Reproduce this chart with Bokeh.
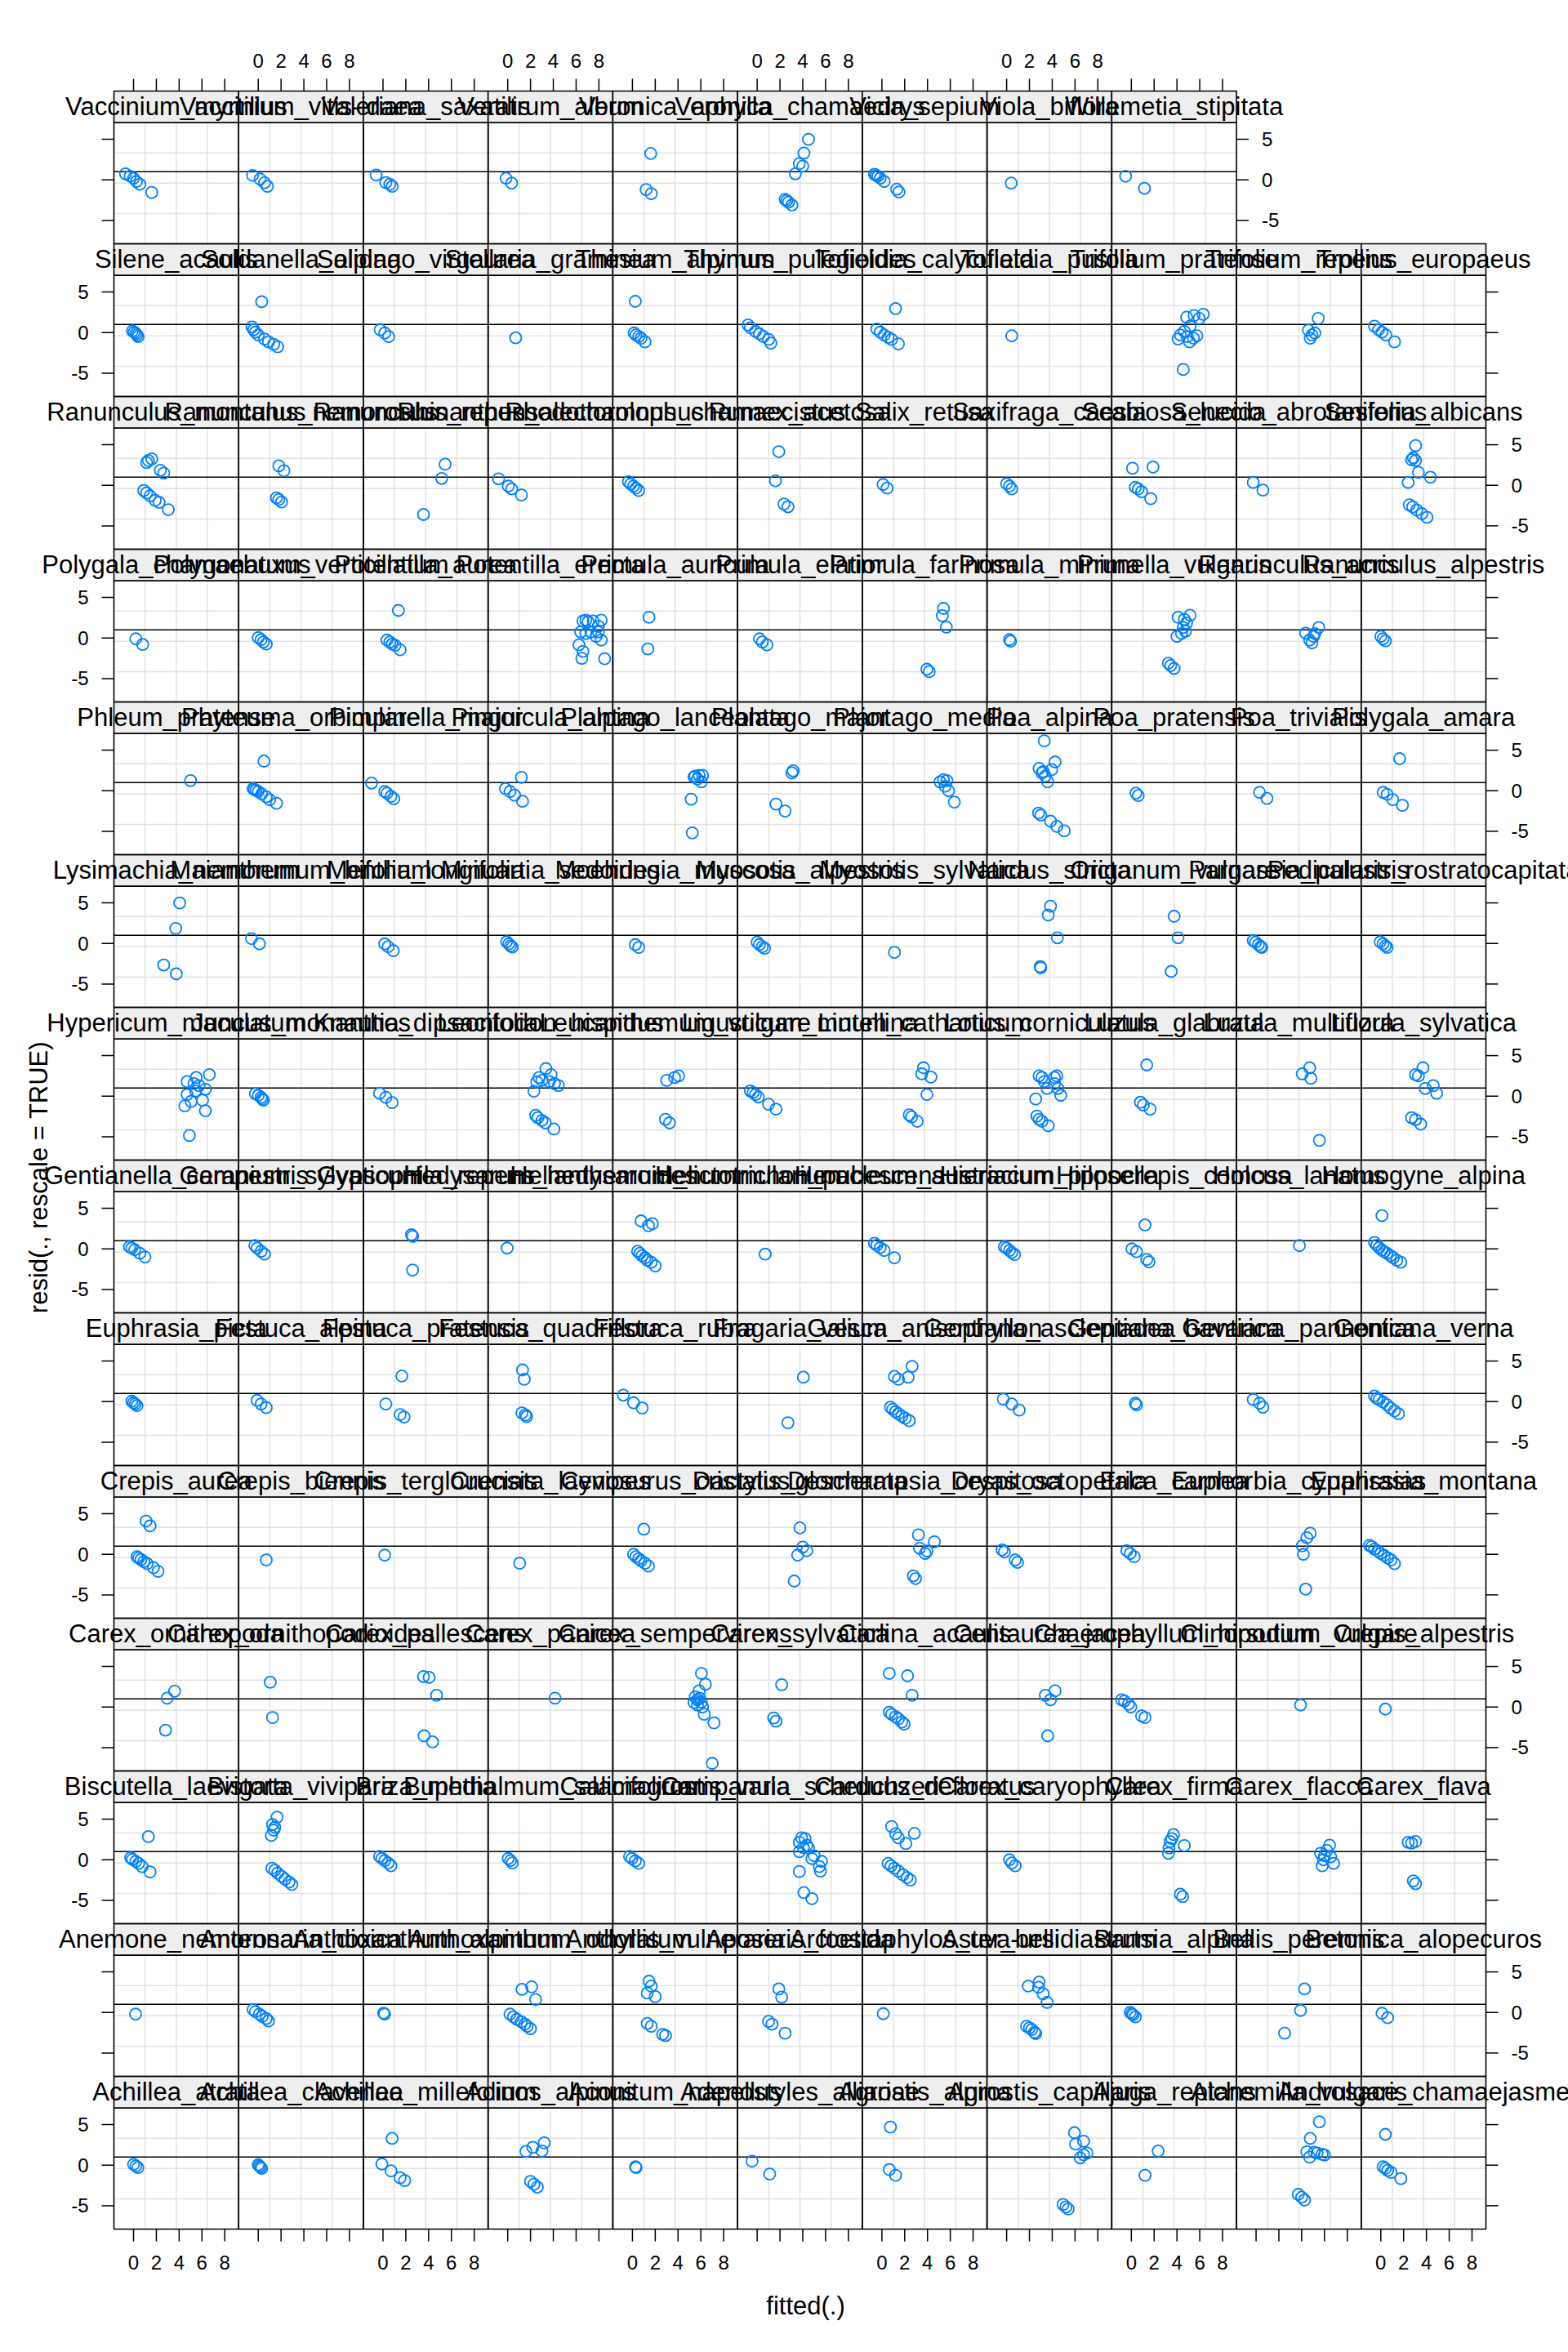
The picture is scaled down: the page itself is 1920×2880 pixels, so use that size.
import math
from bokeh.plotting import figure
from bokeh.models import Range1d
from bokeh.core.properties import value
from bokeh.embed import file_html
from bokeh.resources import INLINE

# ---------------- data (panels in lattice order: bottom-left first) ----------------
species = [
    "Achillea_atrata", "Achillea_clavenae", "Achillea_millefolium", "Acinos_alpinus", "Aconitum_napellus",
    "Adenostyles_alliariae", "Agrostis_alpina", "Agrostis_capillaris", "Ajuga_reptans", "Alchemilla_vulgaris",
    "Androsace_chamaejasme",
    "Anemone_nemorosa", "Antennaria_dioica", "Anthoxanthum_alpinum", "Anthoxanthum_odoratum", "Anthyllis_vulneraria",
    "Aposeris_foetida", "Arctostaphylos_uva-ursi", "Aster_bellidiastrum", "Bartsia_alpina", "Bellis_perennis",
    "Betonica_alopecuros",
    "Biscutella_laevigata", "Bistorta_vivipara", "Briza_media", "Buphthalmum_salicifolium", "Calamagrostis_varia",
    "Campanula_scheuchzeri", "Carduus_defloratus", "Carex_caryophyllea", "Carex_firma", "Carex_flacca", "Carex_flava",
    "Carex_ornithopoda", "Carex_ornithopodioides", "Carex_pallescens", "Carex_panicea", "Carex_sempervirens",
    "Carex_sylvatica", "Carlina_acaulis", "Centaurea_jacea", "Chaerophyllum_hirsutum", "Clinopodium_vulgare",
    "Crepis_alpestris",
    "Crepis_aurea", "Crepis_biennis", "Crepis_terglouensis", "Cruciata_laevipes", "Cynosurus_cristatus",
    "Dactylis_glomerata", "Deschampsia_cespitosa", "Dryas_octopetala", "Erica_carnea", "Euphorbia_cyparissias",
    "Euphrasia_montana",
    "Euphrasia_picta", "Festuca_alpina", "Festuca_pratensis", "Festuca_quadriflora", "Festuca_rubra",
    "Fragaria_vesca", "Galium_anisophyllon", "Gentiana_asclepiadea", "Gentiana_bavarica", "Gentiana_pannonica",
    "Gentiana_verna",
    "Gentianella_campestris", "Geranium_sylvaticum", "Gypsophila_repens", "Hedysarum_hedysaroides",
    "Helianthemum_nummularium", "Helictotrichon_pubescens", "Heracleum_austriacum", "Hieracium_pilosella",
    "Hippocrepis_comosa", "Holcus_lanatus", "Homogyne_alpina",
    "Hypericum_maculatum", "Juncus_monanthos", "Knautia_dipsacifolia", "Leontodon_hispidus", "Leucanthemum_vulgare",
    "Ligusticum_mutellina", "Linum_catharticum", "Lotus_corniculatus", "Luzula_glabrata", "Luzula_multiflora",
    "Luzula_sylvatica",
    "Lysimachia_nemorum", "Maianthemum_bifolium", "Mentha_longifolia", "Minuartia_sedoides", "Moehringia_muscosa",
    "Myosotis_alpestris", "Myosotis_sylvatica", "Nardus_stricta", "Origanum_vulgare", "Parnassia_palustris",
    "Pedicularis_rostratocapitata",
    "Phleum_pratense", "Phyteuma_orbiculare", "Pimpinella_major", "Pinguicula_alpina", "Plantago_lanceolata",
    "Plantago_major", "Plantago_media", "Poa_alpina", "Poa_pratensis", "Poa_trivialis", "Polygala_amara",
    "Polygala_chamaebuxus", "Polygonatum_verticillatum", "Potentilla_aurea", "Potentilla_erecta", "Primula_auricula",
    "Primula_elatior", "Primula_farinosa", "Primula_minima", "Prunella_vulgaris", "Ranunculus_acris",
    "Ranunculus_alpestris",
    "Ranunculus_montanus", "Ranunculus_nemorosus", "Ranunculus_repens", "Rhinanthus_alectorolophus",
    "Rhodothamnus_chamaecistus", "Rumex_acetosa", "Salix_retusa", "Saxifraga_caesia", "Scabiosa_lucida",
    "Senecio_abrotanifolius", "Sesleria_albicans",
    "Silene_acaulis", "Soldanella_alpina", "Solidago_virgaurea", "Stellaria_graminea", "Thesium_alpinum",
    "Thymus_pulegioides", "Tofieldia_calyculata", "Tofieldia_pusilla", "Trifolium_pratense", "Trifolium_repens",
    "Trollius_europaeus",
    "Vaccinium_myrtillus", "Vaccinium_vitis-idaea", "Valeriana_saxatilis", "Veratrum_album", "Veronica_aphylla",
    "Veronica_chamaedrys", "Vicia_sepium", "Viola_biflora", "Willemetia_stipitata",
]

fitted = [
    [0.0, 0.2, 0.38], [0.0, 0.1, 0.2, 0.3], [0.8, -0.1, 0.7, 1.5, 1.9], [1.6, 2.2, 3.2, 3.0, 2.0, 2.3, 2.6],
    [0.27, 0.32], [-0.45, 1.1], [0.75, 0.65, 1.2], [5.95, 6.75, 6.05, 7.05, 6.45, 6.75, 4.95, 5.2, 5.4],
    [2.35, 1.2], [5.55, 4.75, 4.45, 5.1, 5.8, 4.7, 5.35, 6.0, 3.7, 4.0, 4.25], [0.4, 0.2, 0.4, 0.6, 0.9, 1.75],
    [0.18], [-0.45, -0.25, 0.1, 0.35, 0.7, 0.9], [0.05, 0.14], [1.25, 2.1, 2.45, 0.2, 0.5, 0.8, 1.2, 1.5, 1.7, 2.0],
    [1.45, 1.65, 1.3, 2.0, 1.3, 1.65, 2.65, 2.9], [1.9, 2.15, 1.0, 1.3, 2.45], [0.12],
    [1.9, 2.85, 2.8, 3.2, 3.55, 1.75, 2.0, 2.2, 2.45, 2.55], [-0.1, 0.05, 0.15, 0.35], [4.25, 3.9, 2.5], [0.1, 0.6],
    [1.3, -0.25, -0.1, 0.2, 0.45, 0.75, 1.45], [1.65, 1.25, 1.45, 1.35, 1.15, 1.2, 1.45, 1.7, 2.05, 2.35, 2.7, 2.95],
    [-0.3, -0.1, 0.15, 0.45, 0.7], [0.05, 0.25, 0.4], [-0.25, -0.05, 0.25, 0.55],
    [3.9, 4.2, 3.7, 4.35, 4.05, 3.7, 4.5, 5.0, 4.8, 5.65, 5.45, 5.55, 3.7, 4.1, 4.8],
    [0.85, 1.2, 1.45, 2.85, 2.1, 0.55, 0.8, 1.1, 1.45, 1.85, 2.2, 2.5], [0.25, 0.45, 0.75],
    [3.7, 3.4, 3.25, 4.65, 3.55, 3.3, 4.3, 4.5], [6.45, 5.65, 6.2, 6.0, 5.9, 5.8, 6.8, 6.55], [2.4, 3.05, 2.7, 2.85, 3.05],
    [3.6, 2.95, 2.8], [1.05, 1.25], [3.55, 4.05, 4.7, 3.6, 4.35], [4.15],
    [6.05, 6.4, 5.85, 5.5, 5.9, 5.7, 5.4, 6.05, 6.15, 5.7, 6.3, 7.15, 7.0], [2.15, 1.45, 1.65],
    [0.65, 2.25, 2.65, 0.65, 0.85, 1.2, 1.45, 1.75, 1.95], [4.25, 3.4, 3.85, 3.6], [-0.85, -0.6, -0.25, -0.05, 0.9, 1.2],
    [3.9], [0.4],
    [1.1, 1.45, 0.3, 0.45, 0.65, 0.9, 1.2, 1.75, 2.15], [0.7], [0.15], [1.05], [1.0, 0.1, 0.3, 0.55, 0.75, 1.1, 1.4],
    [3.75, 4.0, 4.35, 3.55, 3.25], [3.2, 4.6, 3.3, 3.95, 3.8, 2.75, 2.95], [-0.4, -0.2, 0.75, 0.95], [-0.4, -0.1, 0.25],
    [4.75, 4.45, 4.05, 4.15, 4.35], [-1.0, -0.8, -0.55, -0.25, 0.0, 0.3, 0.6, 0.9, 1.2],
    [-0.15, 0.0, 0.15, 0.3], [-0.1, 0.25, 0.7], [1.65, 0.25, 1.5, 1.85], [1.3, 1.45, 1.25, 1.55, 1.65], [-0.8, 0.1, 0.85],
    [4.05, 2.7], [1.1, 1.45, 2.3, 2.65, 0.75, 0.95, 1.2, 1.45, 1.75, 2.05, 2.4], [-0.3, 0.45, 1.1], [0.35, 0.45],
    [-0.25, 0.3, 0.6], [-0.55, -0.35, -0.15, 0.2, 0.55, 0.85, 1.2, 1.55],
    [-0.35, -0.15, 0.1, 0.55, 1.0], [-0.3, -0.1, 0.25, 0.55], [2.5, 2.6, 2.6], [-0.05],
    [0.75, 1.4, 1.75, 0.45, 0.65, 0.85, 1.1, 1.3, 1.65, 2.0], [0.7], [-0.65, -0.45, -0.15, 0.2, 1.1],
    [-0.2, 0.0, 0.25, 0.45, 0.7], [1.2, 0.05, 0.45, 1.35, 1.55], [3.8],
    [0.1, -0.55, -0.35, -0.15, 0.1, 0.3, 0.55, 0.85, 1.1, 1.4, 1.75],
    [6.65, 5.5, 4.7, 5.3, 5.75, 6.3, 4.7, 5.45, 5.05, 4.5, 6.05, 6.3, 4.9], [-0.25, 0.0, 0.25, 0.35, 0.45],
    [-0.3, 0.25, 0.8], [3.35, 2.75, 3.8, 2.55, 3.0, 3.65, 4.1, 4.45, 2.3, 2.45, 2.65, 3.0, 3.3, 4.05],
    [3.0, 3.7, 4.05, 2.9, 3.25], [-0.6, -0.35, -0.15, 0.1, 1.0, 1.65], [3.65, 3.5, 4.3, 3.95, 2.4, 2.6, 3.1],
    [2.85, 3.1, 4.2, 4.4, 3.3, 3.55, 4.2, 4.5, 4.75, 2.55, 2.65, 2.85, 3.1, 3.65], [1.35, 0.8, 1.05, 1.65],
    [4.7, 4.05, 4.8, 5.55], [3.7, 3.05, 3.3, 4.6, 3.9, 4.9, 2.7, 3.05, 3.5],
    [4.05, 3.7, 2.65, 3.75], [-0.6, 0.1], [0.15, 0.45, 0.9], [-0.1, 0.1, 0.25, 0.4], [0.25, 0.55],
    [0.0, 0.2, 0.45, 0.65], [1.1], [3.85, 3.65, 4.45, 2.95, 3.0], [3.75, 4.1, 3.5], [-0.25, -0.05, 0.2, 0.4, 0.5],
    [-0.05, 0.2, 0.4, 0.55],
    [5.0], [0.5, -0.45, -0.35, -0.2, 0.0, 0.3, 0.7, 1.0, 1.6], [-1.0, 0.15, 0.35, 0.7, 0.95],
    [1.2, -0.2, 0.2, 0.6, 1.3], [5.5, 5.85, 6.15, 6.05, 5.7, 5.4, 5.15, 5.25], [3.15, 3.05, 1.65, 2.45],
    [5.1, 5.4, 5.7, 5.55, 5.85, 6.35], [3.3, 4.25, 2.85, 3.2, 3.6, 3.4, 3.95, 3.1, 2.8, 3.0, 3.85, 4.4, 5.05],
    [0.4, 0.6], [0.3, 0.95], [1.65, 0.2, 0.55, 1.05, 1.9],
    [0.2, 0.8], [0.0, 0.25, 0.45, 0.7], [1.35, 0.35, 0.6, 0.8, 1.05, 1.5],
    [6.4, 6.6, 6.85, 7.05, 7.5, 8.2, 7.95, 6.85, 7.3, 7.75, 8.2, 6.25, 6.6, 6.5, 8.5, 7.95], [1.45, 1.35],
    [0.2, 0.45, 0.85], [5.4, 5.3, 5.65, 3.95, 4.15], [0.25, 0.35],
    [4.1, 5.15, 4.65, 4.85, 4.55, 4.75, 4.4, 4.0, 3.25, 3.45, 3.75], [4.35, 5.5, 5.15, 4.7, 4.9, 5.05], [0.0, 0.2, 0.4],
    [1.6, 1.3, 1.15, 2.35, 2.65, 0.9, 1.15, 1.45, 1.9, 2.25, 3.05], [1.8, 2.25, 1.6, 1.8, 2.05], [5.45, 5.15, 3.55],
    [-0.8, 0.05, 0.35, 1.2], [-0.35, -0.15, 0.1, 0.3, 0.55], [1.9, 1.6, 2.35, 2.7], [0.1, 0.45], [0.0, 0.25, 0.45],
    [0.1, 1.9, 0.35, 0.6, 0.9, 1.7], [-0.25, 0.6], [3.05, 2.7, 3.05, 2.85, 3.3, 4.35, 2.4, 2.5, 2.8, 3.15, 3.6, 4.05],
    [-0.1, 0.05, 0.2, 0.3, 0.4], [0.3, -0.55, -0.4, -0.25, 0.0, 0.55, 0.9, 1.35, 1.7], [-0.25, 0.15, 0.5], [0.7],
    [0.25, 0.15, 0.3, 0.55, 0.75, 1.1], [-0.8, -0.6, -0.15, 0.2, 0.55, 1.0, 1.2], [1.2, -0.45, -0.15, 0.2, 0.55, 0.85, 1.45],
    [0.45], [4.55, 4.1, 4.3, 4.65, 4.85, 5.15, 5.5, 5.95, 6.3, 5.75, 5.1, 5.45, 4.9], [5.45, 4.6, 4.9, 5.15, 4.75],
    [-0.55, -0.2, 0.1, 0.45, 1.2],
    [-0.7, -0.3, 0.0, 0.25, 0.55, 1.6], [-0.5, 0.15, 0.55, 0.8], [-0.6, 0.25, 0.6, 0.8], [-0.15, 0.35], [1.6, 1.2, 1.65],
    [4.5, 4.1, 4.0, 3.7, 3.35, 2.45, 2.6, 2.75, 3.05], [-0.65, -0.5, -0.35, -0.15, 0.2, 1.3, 1.5], [0.4], [-0.5, 1.15],
]

resid = [
    [0.1, -0.1, -0.3], [0.05, -0.1, -0.25, -0.4], [3.3, 0.15, -0.7, -1.55, -1.9], [1.7, 2.2, 2.75, 1.75, -2.0, -2.35, -2.7],
    [-0.2, -0.3], [0.5, -1.1], [4.7, -0.55, -1.25], [4.0, 2.95, 2.6, 1.5, 0.9, 1.3, -4.85, -5.15, -5.4],
    [1.75, -1.25], [5.35, 3.3, 1.65, 1.6, 1.35, 1.0, 1.5, 1.25, -3.6, -3.95, -4.3], [3.8, -0.2, -0.4, -0.65, -0.9, -1.65],
    [-0.2], [0.35, 0.1, -0.2, -0.5, -0.75, -1.05], [-0.08, -0.2], [2.85, 3.15, 1.6, -0.2, -0.55, -0.85, -1.15, -1.45, -1.7, -2.0],
    [3.85, 3.25, 2.4, 1.95, -1.35, -1.7, -2.7, -2.85], [2.9, 1.9, -1.1, -1.45, -2.55], [-0.15],
    [3.25, 3.75, 3.1, 2.3, 1.25, -1.7, -1.9, -2.1, -2.45, -2.6], [0.0, -0.15, -0.3, -0.55], [2.9, 0.25, -2.55], [-0.1, -0.65],
    [2.85, 0.25, 0.05, -0.2, -0.45, -0.85, -1.5], [5.25, 4.35, 4.0, 3.65, 3.0, -1.05, -1.3, -1.65, -2.05, -2.4, -2.75, -3.05],
    [0.4, 0.15, -0.1, -0.4, -0.75], [0.15, -0.1, -0.4], [0.4, 0.15, -0.15, -0.45],
    [2.7, 2.6, 2.15, 1.8, 1.5, 1.0, 1.45, 0.5, 0.15, -0.2, -0.85, -1.4, -1.45, -4.05, -4.8],
    [4.1, 3.2, 2.7, 3.25, 2.0, -0.45, -0.75, -1.05, -1.4, -1.85, -2.2, -2.5], [0.0, -0.4, -0.75],
    [3.1, 2.25, 0.8, 1.75, 2.6, 1.45, -4.25, -4.55], [1.8, 0.8, 1.15, 0.5, 0.0, -0.75, -0.45, 0.35], [2.15, 2.25, 2.05, -2.6, -2.95],
    [1.95, 1.1, -2.85], [3.05, -1.3], [3.75, 3.65, 1.45, -3.55, -4.3], [1.1],
    [4.15, 2.8, 2.0, 1.25, 1.1, 0.9, 0.55, 0.6, 0.0, 0.25, -0.9, -1.95, -6.95], [2.75, -1.35, -1.75],
    [4.15, 3.85, 1.45, -0.65, -0.9, -1.2, -1.45, -1.85, -2.1], [2.0, 1.45, 0.9, -3.55], [0.9, 0.75, 0.35, 0.0, -1.1, -1.3],
    [0.25], [-0.25],
    [4.1, 3.5, -0.3, -0.45, -0.65, -0.9, -1.15, -1.65, -2.1], [-0.7], [-0.1], [-1.1], [3.1, 0.0, -0.3, -0.55, -0.8, -1.1, -1.45],
    [3.25, 0.9, 0.45, -0.1, -3.3], [2.4, 1.55, 0.75, 0.4, 0.1, -2.65, -3.0], [0.55, 0.3, -0.7, -1.0], [0.45, 0.1, -0.3],
    [2.6, 2.05, 1.05, 0.0, -4.3], [1.1, 0.95, 0.65, 0.4, 0.1, -0.15, -0.45, -0.7, -1.15],
    [0.05, -0.15, -0.3, -0.5], [0.15, -0.3, -0.75], [3.15, -0.3, -1.6, -1.9], [3.9, 2.75, -1.4, -1.65, -1.85], [0.8, -0.15, -0.8],
    [3.0, -2.6], [3.1, 2.75, 3.0, 4.35, -0.7, -0.95, -1.25, -1.5, -1.8, -2.05, -2.35], [0.3, -0.3, -1.05], [-0.2, -0.4],
    [0.25, -0.2, -0.7], [0.7, 0.4, 0.25, -0.05, -0.4, -0.8, -1.15, -1.5],
    [0.25, 0.1, -0.1, -0.55, -1.0], [0.4, 0.1, -0.3, -0.65], [1.75, 1.55, -2.6], [0.1],
    [3.45, 2.85, 3.1, -0.3, -0.55, -0.85, -1.1, -1.4, -1.65, -2.1], [-0.65], [0.7, 0.45, 0.15, -0.2, -1.1],
    [0.25, 0.1, -0.2, -0.45, -0.7], [2.95, 0.0, -0.35, -1.3, -1.6], [0.4],
    [4.1, 0.8, 0.45, 0.15, -0.15, -0.35, -0.55, -0.85, -1.1, -1.4, -1.65],
    [2.65, 2.3, 1.8, 1.55, 1.3, 0.85, 0.2, 0.65, -0.65, -1.2, -0.5, -1.8, -4.85], [0.3, 0.1, -0.15, -0.35, -0.5],
    [0.35, -0.15, -0.8], [3.4, 2.3, 2.65, 1.75, 1.95, 1.8, 1.55, 1.3, 0.6, -2.35, -2.65, -3.0, -3.3, -4.05],
    [1.95, 2.3, 2.5, -2.85, -3.3], [0.65, 0.45, 0.2, -0.1, -1.0, -1.6], [3.5, 2.75, 2.35, 0.2, -2.3, -2.55, -3.1],
    [2.5, 2.3, 2.3, 2.5, 1.8, 0.95, 1.55, 0.95, 0.1, -0.35, -2.45, -2.85, -3.1, -3.65], [3.85, -0.75, -1.1, -1.6],
    [3.5, 2.75, 2.2, -5.45], [3.5, 2.65, 2.5, 1.3, 0.95, 0.35, -2.65, -2.9, -3.45],
    [5.0, 1.85, -2.65, -3.75], [0.6, -0.05], [-0.05, -0.4, -0.9], [0.2, -0.05, -0.3, -0.45], [-0.15, -0.5],
    [0.15, -0.15, -0.4, -0.6], [-1.1], [4.6, 3.5, 0.7, -2.85, -3.0], [3.35, 0.7, -3.45], [0.35, 0.15, -0.15, -0.4, -0.5],
    [0.2, -0.05, -0.3, -0.5],
    [1.25], [3.65, 0.25, 0.15, 0.05, -0.1, -0.4, -0.75, -1.1, -1.55], [0.95, -0.1, -0.3, -0.7, -1.0],
    [1.65, 0.25, -0.1, -0.55, -1.3], [1.8, 1.9, 1.9, 1.1, 1.45, 1.7, -1.05, -5.2], [2.45, 2.2, -1.65, -2.5],
    [1.1, 1.35, 1.25, 0.55, 0.0, -1.4], [6.15, 3.55, 2.75, 2.35, 1.1, 1.8, 2.6, 2.2, -2.75, -3.0, -3.75, -4.4, -4.95],
    [-0.3, -0.6], [-0.2, -0.95], [3.95, -0.2, -0.45, -1.1, -1.8],
    [-0.1, -0.8], [0.05, -0.2, -0.5, -0.75], [3.4, -0.25, -0.5, -0.75, -0.9, -1.45],
    [0.75, 2.1, 2.2, 2.0, 2.1, 2.2, 0.75, 0.55, 0.75, 0.2, -0.25, -0.85, -1.65, -2.5, -2.55, 1.45], [2.55, -1.35],
    [-0.1, -0.5, -0.85], [3.65, 2.75, 1.35, -3.85, -4.15], [-0.2, -0.4],
    [2.55, 2.8, 2.3, 1.85, 1.3, 0.85, 0.55, 0.2, -3.1, -3.4, -3.75], [0.6, 1.3, 0.55, -0.25, -0.6, 0.2], [0.2, -0.1, -0.35],
    [3.25, 3.05, 2.8, 1.85, 1.5, -0.65, -0.95, -1.3, -1.85, -2.1, -3.0], [2.4, 1.8, -1.55, -1.75, -2.05], [2.6, 0.85, -3.6],
    [0.8, -0.1, -0.45, -1.2], [0.45, 0.15, -0.1, -0.35, -0.65], [4.15, 0.55, -2.3, -2.65], [0.1, -0.35], [0.2, -0.1, -0.45],
    [2.1, 2.25, -0.25, -0.45, -0.8, -1.65], [0.35, -0.6], [4.9, 3.15, 3.05, 3.4, 1.6, 1.0, 0.35, -2.4, -2.65, -3.05, -3.5, -3.95],
    [0.2, 0.05, -0.1, -0.3, -0.5], [3.8, 0.7, 0.35, 0.05, -0.3, -0.8, -1.15, -1.45, -1.75], [0.35, -0.05, -0.5], [-0.65],
    [3.85, -0.05, -0.3, -0.5, -0.7, -1.15], [0.95, 0.6, 0.15, -0.15, -0.5, -0.85, -1.3], [2.95, 0.45, 0.05, -0.3, -0.6, -0.85, -1.4],
    [-0.4], [-4.55, -0.8, -0.3, 0.15, 1.9, 0.8, 2.1, 1.75, 2.25, -0.4, -1.15, -0.7, -0.5], [1.75, 0.3, -0.3, -0.05, -0.7],
    [0.8, 0.35, 0.05, -0.3, -1.15],
    [0.75, 0.45, 0.2, -0.2, -0.55, -1.55], [0.55, 0.1, -0.35, -0.8], [0.6, -0.35, -0.55, -0.8], [0.2, -0.4], [3.25, -1.2, -1.7],
    [5.0, 3.3, 1.7, 2.0, 0.75, -2.4, -2.55, -2.75, -3.1], [0.7, 0.55, 0.45, 0.2, -0.2, -1.15, -1.5], [-0.4], [0.45, -1.05],
]

x_lim = (-1.72, 9.22)
y_lim = (-7.88, 7.05)
x_ticks = [0, 2, 4, 6, 8]
y_ticks = [-5, 0, 5]
ref_line_y = 1.0
n_cols = 11
n_rows = 14
x_title = "fitted(.)"
y_title = "resid(., rescale = TRUE)"

# ---------------- layout ----------------
CANVAS_W, CANVAS_H = 1920, 2880
PANEL_LEFT, PANEL_RIGHT, PANEL_TOP, PANEL_BOTTOM = 139, 1819, 111, 2729  # pixels
W = x_lim[1] - x_lim[0]
H = y_lim[1] - y_lim[0]
STRIP = 3.9
RH = H + STRIP
PX_X = (PANEL_RIGHT - PANEL_LEFT) / (n_cols * W)
PX_Y = (PANEL_BOTTOM - PANEL_TOP) / (n_rows * RH)
FONT = "Liberation Sans"
TICK = 15  # px

p = figure(width=CANVAS_W, height=CANVAS_H, output_backend="svg", toolbar_location=None,
           x_range=Range1d(-PANEL_LEFT / PX_X, (CANVAS_W - PANEL_LEFT) / PX_X),
           y_range=Range1d(-(CANVAS_H - PANEL_BOTTOM) / PX_Y, PANEL_BOTTOM / PX_Y),
           x_axis_type=None, y_axis_type=None, min_border=0)
p.outline_line_color = None
p.background_fill_color = "white"
p.border_fill_color = "white"

n = len(species)
cols = [i % n_cols for i in range(n)]
rbs = [i // n_cols for i in range(n)]

# grid lines (quarters of each panel)
gx0, gx1, gy0, gy1 = [], [], [], []
for c, rb in zip(cols, rbs):
    for k in (1, 2, 3):
        xv = c * W + W * k / 4
        gx0.append(xv); gx1.append(xv); gy0.append(rb * RH); gy1.append(rb * RH + H)
        yv = rb * RH + H * k / 4
        gx0.append(c * W); gx1.append((c + 1) * W); gy0.append(yv); gy1.append(yv)
p.segment(x0=gx0, y0=gy0, x1=gx1, y1=gy1, line_color="#E2E2E2", line_width=1.5)

# reference line
ry = [rb * RH + ref_line_y - y_lim[0] for rb in rbs]
p.segment(x0=[c * W for c in cols], x1=[(c + 1) * W for c in cols], y0=ry, y1=ry,
          line_color="black", line_width=1.6)

# points
px, py = [], []
for i in range(n):
    c, rb = cols[i], rbs[i]
    for xv, yv in zip(fitted[i], resid[i]):
        px.append(c * W + xv - x_lim[0])
        py.append(rb * RH + yv - y_lim[0])
p.scatter(px, py, marker="circle", size=14, fill_color=None, line_color="#0080FF", line_width=1.8)

# strips and panel borders
p.quad(left=[c * W for c in cols], right=[(c + 1) * W for c in cols],
       bottom=[rb * RH + H for rb in rbs], top=[(rb + 1) * RH for rb in rbs],
       fill_color="#EEEEEE", line_color="black", line_width=1.6)
p.quad(left=[c * W for c in cols], right=[(c + 1) * W for c in cols],
       bottom=[rb * RH for rb in rbs], top=[rb * RH + H for rb in rbs],
       fill_color=None, line_color="black", line_width=1.6)

# strip labels (centred in the strip, overflowing like lattice)
p.text(x=[c * W + W / 2 for c in cols], y=[rb * RH + H + STRIP / 2 for rb in rbs], text=species,
       text_align="center", text_baseline="middle", text_font=value(FONT),
       text_font_size="31px", text_color="black")

# ---------------- axes (lattice style: alternating labels) ----------------
sx0, sx1, sy0, sy1 = [], [], [], []
lx, ly, lt, la = [], [], [], []
top_n = n - (n_rows - 1) * n_cols

# bottom: every column, labels on even columns
for c in range(n_cols):
    for v in x_ticks:
        xv = c * W + v - x_lim[0]
        sx0.append(xv); sx1.append(xv); sy0.append(0); sy1.append(-TICK / PX_Y)
        if c % 2 == 0:
            lx.append(xv); ly.append(-41 / PX_Y); lt.append(str(v)); la.append("center")
# top: columns of the top row, labels on odd columns
for c in range(top_n):
    for v in x_ticks:
        xv = c * W + v - x_lim[0]
        sx0.append(xv); sx1.append(xv); sy0.append(n_rows * RH); sy1.append(n_rows * RH + TICK / PX_Y)
        if c % 2 == 1:
            lx.append(xv); ly.append(n_rows * RH + 37 / PX_Y); lt.append(str(v)); la.append("center")
# left and right
for rb in range(n_rows):
    r = n_rows - 1 - rb
    right_edge = (n_cols if rb < n_rows - 1 else top_n) * W
    for v in y_ticks:
        yv = rb * RH + v - y_lim[0]
        sx0.append(0); sx1.append(-TICK / PX_X); sy0.append(yv); sy1.append(yv)
        sx0.append(right_edge); sx1.append(right_edge + TICK / PX_X); sy0.append(yv); sy1.append(yv)
        if r % 2 == 1:
            lx.append(-31 / PX_X); ly.append(yv); lt.append(str(v)); la.append("right")
        else:
            lx.append(right_edge + 31 / PX_X); ly.append(yv); lt.append(str(v)); la.append("left")

p.segment(x0=sx0, x1=sx1, y0=sy0, y1=sy1, line_color="black", line_width=1.5)
p.text(x=lx, y=ly, text=lt, text_align=la, text_baseline="middle", text_font=value(FONT),
       text_font_size="24px", text_color="black")

# axis titles
p.text(x=[(986 - PANEL_LEFT) / PX_X], y=[-(2823 - PANEL_BOTTOM) / PX_Y], text=[x_title],
       text_align="center", text_baseline="middle", text_font=value(FONT), text_font_size="31px", text_color="black")
p.text(x=[(47 - PANEL_LEFT) / PX_X], y=[(PANEL_BOTTOM - 1441) / PX_Y], text=[y_title], angle=math.pi / 2,
       text_align="center", text_baseline="middle", text_font=value(FONT), text_font_size="31px", text_color="black")

open("out.html", "w").write(file_html(p, INLINE))
